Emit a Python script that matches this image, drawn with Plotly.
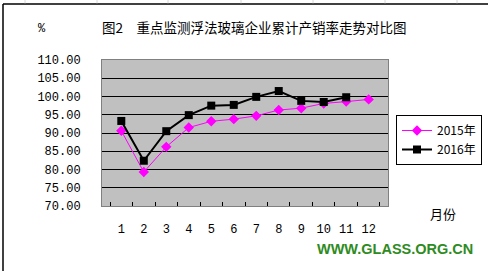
import plotly.graph_objects as go

months = ["1", "2", "3", "4", "5", "6", "7", "8", "9", "10", "11", "12"]
rate_2015 = [90.6, 79.3, 86.2, 91.5, 93.2, 93.8, 94.7, 96.3, 96.8, 98.1, 98.6, 99.2]
rate_2016 = [93.3, 82.4, 90.5, 94.9, 97.5, 97.7, 99.9, 101.5, 98.8, 98.5, 99.8, None]
y_ticks = [70, 75, 80, 85, 90, 95, 100, 105, 110]
y_labels = ["%.2f" % v for v in y_ticks]

W, H = 488, 271
L, R, T, B = 102, 100, 60, 65
pw, ph = W - L - R, H - T - B

def px(x):
    return (x - L) / pw

def py(y):
    return (H - B - y) / ph

fig = go.Figure()
fig.add_trace(go.Scatter(
    x=months, y=rate_2015, name="2015年", mode="lines+markers",
    line=dict(color="#ff00ff", width=1),
    marker=dict(symbol="diamond", size=8, color="#ff00ff"),
))
fig.add_trace(go.Scatter(
    x=months, y=rate_2016, name="2016年", mode="lines+markers",
    line=dict(color="#000000", width=2),
    marker=dict(symbol="square", size=8, color="#000000"),
))

fig.update_layout(
    width=W, height=H,
    margin=dict(l=L, r=R, t=T, b=B, autoexpand=False),
    paper_bgcolor="white",
    plot_bgcolor="#c0c0c0",
    showlegend=True,
    legend=dict(
        xref="container", yref="container",
        x=396 / W, y=1 - 115 / H, xanchor="left", yanchor="top",
        bordercolor="black", borderwidth=1, bgcolor="white",
        font=dict(family="Noto Sans CJK SC", size=12, color="black"),
        itemwidth=30, tracegroupgap=0,
    ),
    xaxis=dict(
        type="category", tickvals=months, ticktext=months, tickangle=0,
        tickson="boundaries", ticks="inside", ticklen=4, tickcolor="black",
        showgrid=False, showline=True, linecolor="#808080", linewidth=1, mirror=True,
        ticklabelstandoff=12,
        tickfont=dict(family="Liberation Mono", size=12, color="black"),
        fixedrange=True,
    ),
    yaxis=dict(
        range=[70, 110], tickvals=y_ticks, ticktext=y_labels,
        ticks="", showgrid=True, gridcolor="black", gridwidth=1,
        showline=True, linecolor="#808080", linewidth=1, mirror=True,
        zeroline=False, ticklabelstandoff=18,
        tickfont=dict(family="Liberation Mono", size=12, color="black"),
        fixedrange=True,
    ),
    annotations=[
        dict(text="图2　重点监测浮法玻璃企业累计产销率走势对比图", x=px(254), y=py(27),
             xref="paper", yref="paper", showarrow=False, xanchor="center", yanchor="middle",
             font=dict(family="Noto Sans CJK SC", size=13.5, color="black")),
        dict(text="%", x=px(42), y=py(29), xref="paper", yref="paper", showarrow=False,
             xanchor="center", yanchor="middle",
             font=dict(family="Liberation Mono", size=12, color="black")),
        dict(text="月份", x=px(443), y=py(213), xref="paper", yref="paper", showarrow=False,
             xanchor="center", yanchor="middle",
             font=dict(family="Noto Sans CJK SC", size=13, color="black")),
        dict(text="WWW.GLASS.ORG.CN", x=px(395), y=py(249), xref="paper", yref="paper",
             showarrow=False, xanchor="center", yanchor="middle",
             font=dict(family="Liberation Sans", size=14.5, color="#2e8b22", weight="bold")),
    ],
    shapes=[
        dict(type="line", xref="paper", yref="paper", x0=px(3), x1=px(490), y0=py(4), y1=py(4),
             line=dict(color="black", width=1.5)),
        dict(type="line", xref="paper", yref="paper", x0=px(3), x1=px(3), y0=py(4), y1=py(275),
             line=dict(color="black", width=1.5)),
    ] + [
        dict(type="line", xref="paper", yref="paper", x0=px(gx), x1=px(gx), y0=py(0), y1=py(3.3),
             line=dict(color="#d8d8d8", width=1))
        for gx in [25, 97, 168, 241, 313, 385, 457]
    ],
)

fig.write_html("out.html")
